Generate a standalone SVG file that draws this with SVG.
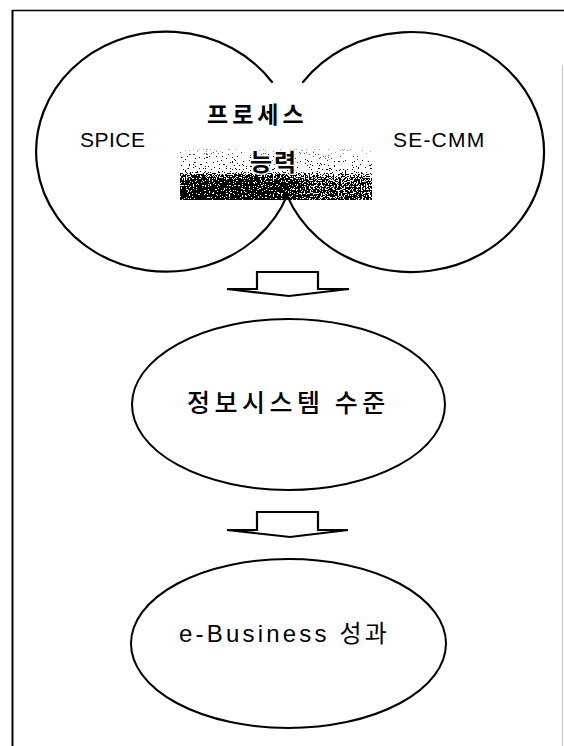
<svg xmlns="http://www.w3.org/2000/svg" width="564" height="746" viewBox="0 0 564 746">
<style>
.ln{fill:none;stroke:#000;stroke-width:2.2;stroke-linecap:round}
.node{fill:#fff;stroke:#000;stroke-width:2}
.arr{fill:#fff;stroke:#000;stroke-width:2.2;stroke-linejoin:miter}
.lat{font-family:"Liberation Sans","Noto Sans CJK KR",sans-serif;fill:#000}
.kr{font-family:"Noto Sans CJK KR","Liberation Sans",sans-serif;fill:#000}
.halo{stroke:#fff;stroke-width:2.5;paint-order:stroke;stroke-linejoin:round}
</style>
<defs>
<linearGradient id="bandV" x1="0" y1="0" x2="0" y2="1">
<stop offset="0" stop-color="#000" stop-opacity="0"/>
<stop offset="0.35" stop-color="#000" stop-opacity="0.02"/>
<stop offset="0.45" stop-color="#000" stop-opacity="0.08"/>
<stop offset="0.53" stop-color="#000" stop-opacity="0.6"/>
<stop offset="0.65" stop-color="#000" stop-opacity="0.82"/>
<stop offset="1" stop-color="#000" stop-opacity="0.92"/>
</linearGradient>
<linearGradient id="bandH" x1="0" y1="0" x2="1" y2="0">
<stop offset="0" stop-color="#fff"/>
<stop offset="0.55" stop-color="#fff"/>
<stop offset="0.7" stop-color="#c4c4c4"/>
<stop offset="1" stop-color="#b8b8b8"/>
</linearGradient>
<mask id="hm" maskUnits="userSpaceOnUse" x="180" y="147" width="192" height="53">
<rect x="180" y="147" width="192" height="53" fill="url(#bandH)"/>
</mask>
<filter id="grain" filterUnits="userSpaceOnUse" x="180" y="147" width="192" height="53" color-interpolation-filters="sRGB">
<feTurbulence type="fractalNoise" baseFrequency="0.75" numOctaves="2" seed="11" result="n"/>
<feColorMatrix in="n" type="matrix" values="0 0 0 0 0  0 0 0 0 0  0 0 0 0 0  2.5 0 0 0 -0.75" result="u"/>
<feComposite in="u" in2="SourceGraphic" operator="arithmetic" k1="0" k2="-4" k3="4" k4="0.5" result="d"/>
<feColorMatrix in="d" type="matrix" values="0 0 0 0 0  0 0 0 0 0  0 0 0 0 0  0 0 0 20 -10"/>
</filter>
</defs>
<rect x="0" y="0" width="564" height="746" fill="#fff"/>
<g id="frame">
<line x1="12.5" y1="10.5" x2="564" y2="10.5" stroke="#000" stroke-width="1.6"/>
<line x1="12.5" y1="10" x2="12.5" y2="746" stroke="#000" stroke-width="2"/>
<line x1="562.5" y1="65" x2="562.5" y2="746" stroke="#c8c8c8" stroke-width="1.2"/>
</g>
<g id="process">
<g filter="url(#grain)">
<rect x="180" y="147" width="192" height="53" fill="url(#bandV)" mask="url(#hm)"/>
</g>
<path class="ln" d="M272,82 A130 120 0 1 0 287.1,195.6"/>
<path class="ln" d="M303,82 A133 120 0 1 1 287.1,195.6"/>
<text class="lat" x="80" y="147" font-size="21" letter-spacing="0.5">SPICE</text>
<text class="lat" x="393" y="147" font-size="21" letter-spacing="1.2">SE-CMM</text>
<text class="kr" x="207" y="123" font-size="23" font-weight="700" letter-spacing="4">프로세스</text>
<text class="kr halo" x="250" y="171" font-size="24" font-weight="700" letter-spacing="2">능력</text>
</g>
<g id="connectors">
<path class="arr" d="M257,272 H318 V289 H349 L289,296 L227,289 H257 Z"/>
<path class="arr" d="M257,512 H318 V530 H348 L290,537 L227,530 H257 Z"/>
</g>
<g id="infosys">
<ellipse class="node" cx="288.5" cy="404.5" rx="156.5" ry="85.5"/>
<text class="kr" x="187" y="412" font-size="25" font-weight="500" letter-spacing="4.5">정보시스템 수준</text>
</g>
<g id="ebiz">
<ellipse class="node" cx="288.5" cy="643.5" rx="157.5" ry="84.5"/>
<text class="lat" x="179" y="642" font-size="24" letter-spacing="3.2">e-Business 성과</text>
</g>
</svg>
